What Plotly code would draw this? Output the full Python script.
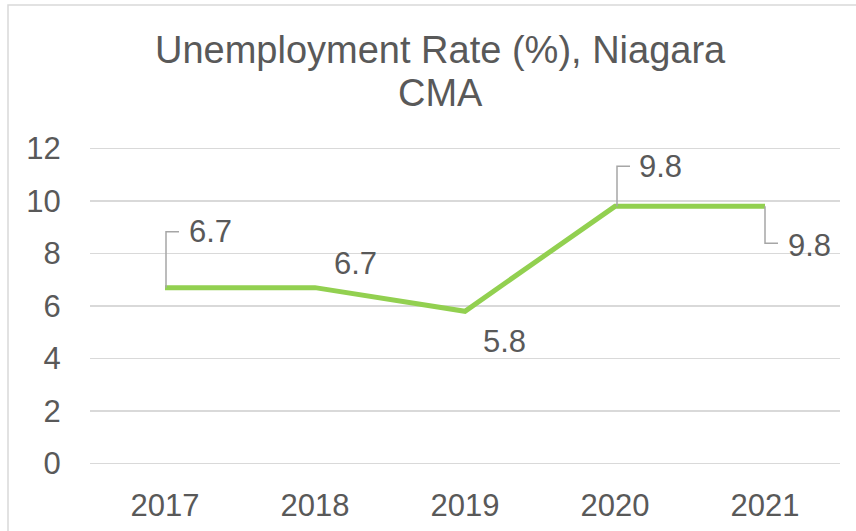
import plotly.graph_objects as go

# ---- data ----
years = ["2017", "2018", "2019", "2020", "2021"]
rates = [6.7, 6.7, 5.8, 9.8, 9.8]
y_ticks = [0, 2, 4, 6, 8, 10, 12]
title_line1 = "Unemployment Rate (%), Niagara"
title_line2 = "CMA"

# ---- style ----
W, H = 856, 531
L, R, T, B = 90, 16, 146, 65
TEXT = "#595959"
GRID = "#d9d9d9"
GREEN = "#92D050"
LEADER = "#a6a6a6"
FONT = "Liberation Sans, Arial, sans-serif"

# label offsets in pixels (center of label relative to point), up is positive
label_dx = [45, 40, 39, 45, 44]
label_dy = [56, 24, -30, 40, -39]
# leader lines: (x of vertical, vertical length, end x) in pixels; None = no leader
leaders = [(1, 56, 14), None, None, (2, 40, 15), (0, -37, 13)]

fig = go.Figure()
fig.add_trace(go.Scatter(
    x=years, y=rates, mode="lines",
    line=dict(color=GREEN, width=5),
    hoverinfo="skip", showlegend=False,
))

annotations = []
shapes = []
for i, v in enumerate(rates):
    annotations.append(dict(
        x=i, y=v, xref="x", yref="y", text=f"{v:.1f}", showarrow=False,
        xanchor="center", yanchor="middle",
        xshift=label_dx[i], yshift=label_dy[i],
        font=dict(family=FONT, size=31, color=TEXT),
    ))
    ld = leaders[i]
    if ld is not None:
        vx, vlen, ex = ld
        shapes.append(dict(
            type="path", xref="x", yref="y",
            xsizemode="pixel", ysizemode="pixel",
            xanchor=i, yanchor=v,
            path=f"M{vx},0 L{vx},{vlen} L{ex},{vlen}",
            line=dict(color=LEADER, width=1.5),
        ))

plot_w = W - L - R
plot_h = H - T - B
def px_x(p):
    return (p - L) / plot_w
def px_y(p):
    return (H - B - p) / plot_h

annotations.append(dict(
    x=px_x(440), y=px_y(50), xref="paper", yref="paper", text=title_line1,
    showarrow=False, xanchor="center", yanchor="middle",
    font=dict(family=FONT, size=38, color=TEXT),
))
annotations.append(dict(
    x=px_x(440), y=px_y(93), xref="paper", yref="paper", text=title_line2,
    showarrow=False, xanchor="center", yanchor="middle",
    font=dict(family=FONT, size=38, color=TEXT),
))

# chart frame (partly cut off on right/bottom)
shapes.append(dict(
    type="rect", xref="paper", yref="paper",
    x0=px_x(8), y0=px_y(560), x1=px_x(880), y1=px_y(5),
    line=dict(color=GRID, width=1.5), fillcolor="rgba(0,0,0,0)", layer="below",
))

fig.update_layout(
    width=W, height=H,
    margin=dict(l=L, r=R, t=T, b=B),
    paper_bgcolor="white", plot_bgcolor="white",
    font=dict(family=FONT, size=31, color=TEXT),
    showlegend=False,
    annotations=annotations,
    shapes=shapes,
    xaxis=dict(
        type="category", range=[-0.5, 4.5],
        showgrid=False, zeroline=False, showline=False,
        ticks="outside", ticklen=12, tickcolor="rgba(0,0,0,0)",
        tickfont=dict(family=FONT, size=31, color=TEXT),
        automargin=False, fixedrange=True,
    ),
    yaxis=dict(
        range=[-0.1, 12.1], tickvals=y_ticks,
        showgrid=True, gridcolor=GRID, gridwidth=1.5,
        zeroline=False, showline=False,
        ticks="outside", ticklen=22, tickcolor="rgba(0,0,0,0)",
        tickfont=dict(family=FONT, size=31, color=TEXT),
        automargin=False, fixedrange=True,
    ),
)

fig.write_html(
    "out.html",
    config={"displayModeBar": False, "staticPlot": True},
    post_script="document.body.style.margin='0';document.body.style.padding='0';",
)
